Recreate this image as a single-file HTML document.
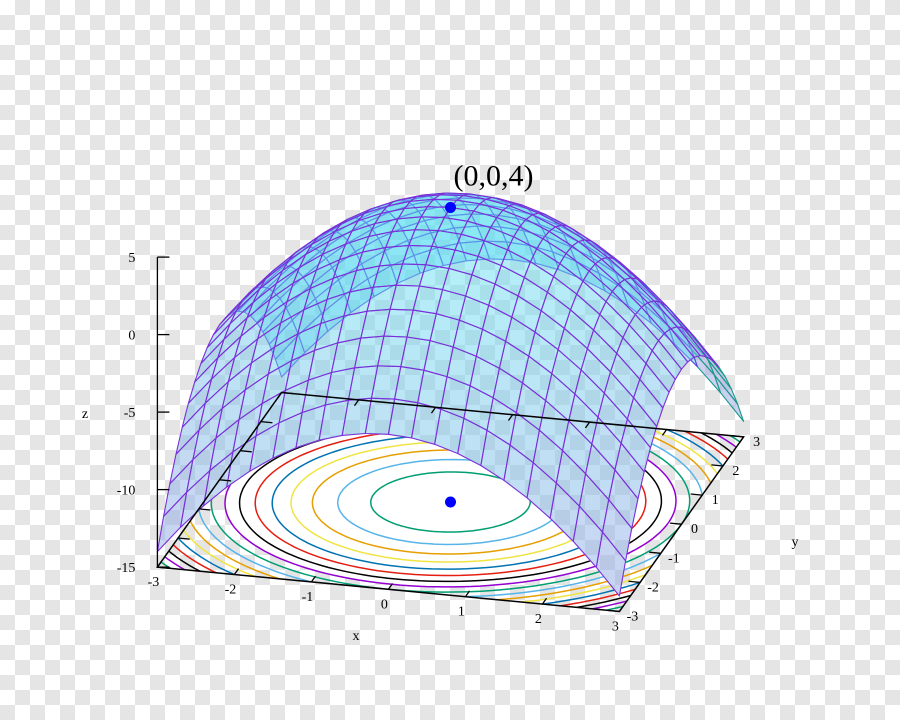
<!DOCTYPE html>
<html><head><meta charset="utf-8"><style>
html,body{margin:0;padding:0;}
body{width:900px;height:720px;overflow:hidden;
background-color:#fff;
background-image:linear-gradient(45deg,#e5e5e5 25%,transparent 25%,transparent 75%,#e5e5e5 75%),linear-gradient(45deg,#e5e5e5 25%,transparent 25%,transparent 75%,#e5e5e5 75%);
background-size:30px 30px;background-position:15px 15px,0 0;}
svg{position:absolute;left:0;top:0;}
text{font-family:"Liberation Serif",serif;fill:#000;}
</style></head><body>
<svg id="chart" width="900" height="720"></svg>
<script>
// data
const peak = [0, 0, 4];
const surfaceCoef = [4, -1, -1]; // z = c0 + c1*x^2 + c2*y^2
const domainMin = -3, domainMax = 3, gridN = 20;
const zTicks = [5, 0, -5, -10, -15];
const xTicks = [-3, -2, -1, 0, 1, 2, 3];
const yTicks = [-3, -2, -1, 0, 1, 2, 3];
const contourLevels = [3, 2, 1, 0, -1, -2, -3, -4, -5, -6, -7, -8, -9, -10, -11, -12, -13, -14];
const contourColors = ['#9400d3', '#009e73', '#56b4e9', '#e69f00', '#f0e442', '#0072b2', '#e51e10', '#000000'];
const zBase = -15;

const NS = 'http://www.w3.org/2000/svg';
const svg = document.getElementById('chart');
const O = [450.5, 502 - 15 * 15.5], EX = [77, 7.4], EY = [20.7, -29.1], EZ = [0, -15.5];
function P(x, y, z) { return [O[0] + x * EX[0] + y * EY[0] + z * EZ[0], O[1] + x * EX[1] + y * EY[1] + z * EZ[1]]; }
function f(x, y) { return surfaceCoef[0] + surfaceCoef[1] * x * x + surfaceCoef[2] * y * y; }
function el(tag, attrs, parent) { const e = document.createElementNS(NS, tag); for (const k in attrs) e.setAttribute(k, attrs[k]); (parent || svg).appendChild(e); return e; }
function pts(a) { return a.map(p => p[0].toFixed(1) + ',' + p[1].toFixed(1)).join(' '); }

const quads = [];
const step = (domainMax - domainMin) / gridN;
for (let i = 0; i < gridN; i++) for (let j = 0; j < gridN; j++) {
  const x0 = domainMin + i * step, x1 = x0 + step, y0 = domainMin + j * step, y1 = y0 + step;
  const cx = (x0 + x1) / 2, cy = (y0 + y1) / 2, cz = f(cx, cy);
  quads.push({ p: [P(x0, y0, f(x0, y0)), P(x1, y0, f(x1, y0)), P(x1, y1, f(x1, y1)), P(x0, y1, f(x0, y1))], cx: cx, z: cz, d: -0.32 * cx + 1.19 * cy - 2.39 * cz });
}
quads.sort((a, b) => b.d - a.d);

const corners = [P(-3, -3, zBase), P(3, -3, zBase), P(3, 3, zBase), P(-3, 3, zBase)];
const defs = el('defs', {});
const cp = el('clipPath', { id: 'baseclip' }, defs);
el('polygon', { points: pts(corners) }, cp);
const mk = el('mask', { id: 'surfmask', maskUnits: 'userSpaceOnUse', x: 0, y: 0, width: 900, height: 720 }, defs);
el('rect', { x: 0, y: 0, width: 900, height: 720, fill: '#fff' }, mk);
quads.forEach(q => el('polygon', { points: pts(q.p), fill: '#000', stroke: '#000', 'stroke-width': 1 }, mk));

const baseG = el('g', { mask: 'url(#surfmask)' });



const rW = Math.sqrt(peak[2] - contourLevels[7]);
const wa = [];
for (let i = 0; i < 120; i++) { const t = i / 120 * 2 * Math.PI; wa.push(P(rW * Math.cos(t), rW * Math.sin(t), zBase)); }
const white = el('polygon', { points: pts(wa), fill: '#fff', 'clip-path': 'url(#baseclip)' }, baseG);



const cg = el('g', { 'clip-path': 'url(#baseclip)' }, baseG);


contourLevels.forEach((lv, i) => {
  const r = Math.sqrt(peak[2] - lv);
  const a = [];
  for (let k = 0; k <= 160; k++) { const t = k / 160 * 2 * Math.PI; a.push(P(r * Math.cos(t), r * Math.sin(t), zBase)); }
  const c = el('polyline', { points: pts(a), fill: 'none', stroke: contourColors[((peak[2] - lv) % 8 + 8) % 8], 'stroke-width': 1.5 }, cg);
  
  
});

const bd = P(peak[0], peak[1], zBase);
const bdot = el('circle', { cx: bd[0], cy: bd[1], r: 5.5, fill: '#0000ff' }, baseG);



// surface
const sg = el('g', {});


quads.forEach(q => {
  const p = q.p;
  let area = 0;
  for (let k = 0; k < 4; k++) { const a = p[k], b = p[(k + 1) % 4]; area += a[0] * b[1] - b[0] * a[1]; }
  const under = area > 0;
  let fill, stroke;
  if (under && q.cx > 2.4) { fill = 'rgba(165,170,225,0.55)'; stroke = '#17998a'; }
  else if (under) { fill = 'rgba(50,205,240,0.38)'; stroke = '#5046e0'; }
  else {
    const t = Math.max(0, Math.min(1, (q.z + 14) / 18));
    const r = Math.round(150 + (100 - 150) * t), g = Math.round(165 + (228 - 165) * t), b = Math.round(228 + (242 - 228) * t);
    fill = `rgba(${r},${g},${b},0.5)`; stroke = '#7a30d8';
  }
  const poly = el('polygon', { points: pts(p), fill: fill, stroke: stroke, 'stroke-width': 1.1, 'stroke-linejoin': 'round' }, sg);
  
  
});

// base box on top
const box = el('polygon', { points: pts(corners), fill: 'none', stroke: '#000', 'stroke-width': 1.5 });



function line(a, b, name) {
  const l = el('line', { x1: a[0], y1: a[1], x2: b[0], y2: b[1], stroke: '#000', 'stroke-width': 1.3 });
  
  
}
xTicks.forEach(v => {
  line(P(v, -3, zBase), P(v, -2.8, zBase), 'x-tick');
  line(P(v, 3, zBase), P(v, 2.8, zBase), 'x-tick-mirror');
  const p = P(v, -3, zBase);
  const t = el('text', { x: p[0] - 4, y: p[1] + 19, 'font-size': 14, 'text-anchor': 'middle' });
  t.textContent = v;
  
  
});
yTicks.forEach(v => {
  line(P(3, v, zBase), P(2.85, v, zBase), 'y-tick');
  line(P(-3, v, zBase), P(-2.85, v, zBase), 'y-tick-mirror');
  const p = P(3, v, zBase);
  const t = el('text', { x: p[0] + 13, y: p[1] + 9, 'font-size': 14, 'text-anchor': 'middle' });
  t.textContent = v;
  
  
});

const tp = P(peak[0], peak[1], peak[2]);
const tdot = el('circle', { cx: tp[0], cy: tp[1], r: 5.5, fill: '#0000ff' });


const title = el('text', { x: tp[0] + 43, y: tp[1] - 22, 'font-size': 30, 'text-anchor': 'middle' });
title.textContent = '(' + peak.join(',') + ')';



line(P(-3, -3, zTicks[zTicks.length - 1]), P(-3, -3, zTicks[0]), 'z-axis');
zTicks.forEach(v => {
  const p = P(-3, -3, v);
  line(p, [p[0] + 12, p[1]], 'z-tick');
  const t = el('text', { x: p[0] - 22, y: p[1] + 5, 'font-size': 14, 'text-anchor': 'end' });
  t.textContent = v;
  
  
});

[['x', 356, 640, 'x-axis-title'], ['y', 795, 546, 'y-axis-title'], ['z', 85, 418, 'z-axis-title']].forEach(a => {
  const t = el('text', { x: a[1], y: a[2], 'font-size': 14, 'text-anchor': 'middle' });
  t.textContent = a[0];
  
  
});
</script>
</body></html>
